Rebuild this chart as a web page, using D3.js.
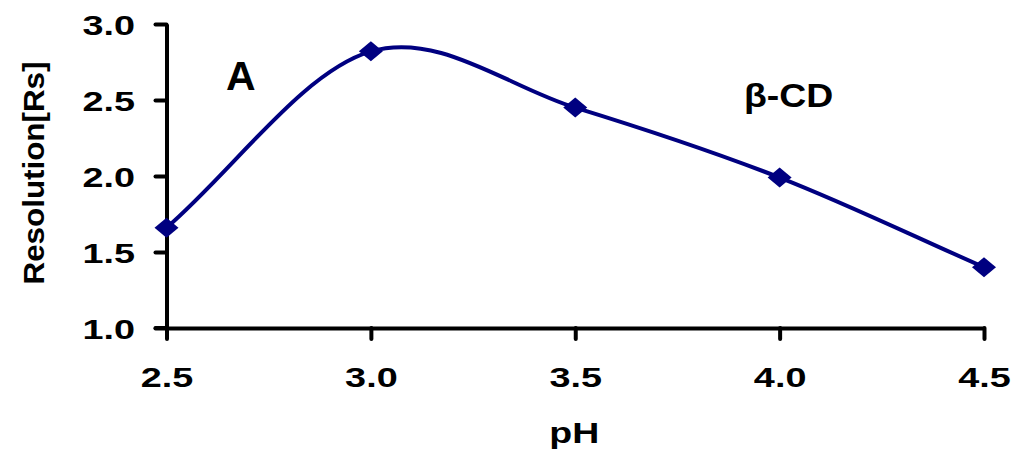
<!DOCTYPE html>
<html>
<head>
<meta charset="utf-8">
<script src="https://cdn.jsdelivr.net/npm/d3@7"></script>
<style>
  body { margin: 0; background: #fff; }
  text { font-family: "Liberation Sans", Arial, sans-serif; font-weight: bold; }
</style>
</head>
<body>
<svg width="1019" height="457"></svg>
<script>
var phValues = [2.5, 3.0, 3.5, 4.0, 4.5];
var resolution = [1.66, 2.82, 2.45, 1.99, 1.40];
var xTicks = [2.5, 3.0, 3.5, 4.0, 4.5];
var yTicks = [1.0, 1.5, 2.0, 2.5, 3.0];

var svg = d3.select('svg'),
  width = +svg.attr('width'),
  height = +svg.attr('height');

var mLeft = 166.5, mRight = 984, mTop = 24, mBottom = 328;
var stretch = 1.35; // labels in the reference are wide

var x = d3.scaleLinear().domain([2.5, 4.5]).range([mLeft, mRight]);
var y = d3.scaleLinear().domain([1.0, 3.0]).range([mBottom, mTop]);

var data = phValues.map(function(d, i) {
  return { ph: d, rs: resolution[i] };
});

// spreadsheet-style smoothed line: bezier handles of (next - prev) / 6,
// end handles pointing a third of the way to the neighbour
function smoothCurve(context) {
  return {
    areaStart: function() {},
    areaEnd: function() {},
    lineStart: function() { this._p = []; },
    point: function(px, py) { this._p.push([px, py]); },
    lineEnd: function() {
      var p = this._p, n = p.length;
      if (!n) return;
      context.moveTo(p[0][0], p[0][1]);
      var t = p.map(function(d, i) {
        if (n < 2) return [0, 0];
        if (i == 0) return [(p[1][0] - p[0][0]) / 3, (p[1][1] - p[0][1]) / 3];
        if (i == n - 1) return [(p[i][0] - p[i - 1][0]) / 3, (p[i][1] - p[i - 1][1]) / 3];
        return [(p[i + 1][0] - p[i - 1][0]) / 6, (p[i + 1][1] - p[i - 1][1]) / 6];
      });
      for (var i = 0; i < n - 1; i++) {
        context.bezierCurveTo(
          p[i][0] + t[i][0], p[i][1] + t[i][1],
          p[i + 1][0] - t[i + 1][0], p[i + 1][1] - t[i + 1][1],
          p[i + 1][0], p[i + 1][1]);
      }
    }
  };
}

var xAxis = svg.append('g')
  .attr('transform', 'translate(0,' + mBottom + ')')
  .call(d3.axisBottom(x).tickValues(xTicks).tickFormat(d3.format('.1f')).tickSize(11).tickSizeOuter(0));

var yAxis = svg.append('g')
  .attr('transform', 'translate(' + mLeft + ',0)')
  .call(d3.axisLeft(y).tickValues(yTicks).tickFormat(d3.format('.1f')).tickSize(11).tickSizeOuter(0));

[xAxis, yAxis].forEach(function(g) {
  g.selectAll('path.domain').attr('stroke', '#000').attr('stroke-width', 4);
  g.selectAll('.tick line').attr('stroke', '#000').attr('stroke-width', 4).attr('stroke-linecap', 'round');
  g.selectAll('.tick text').attr('fill', '#000').style('font-size', '28px')
    .attr('transform', 'scale(' + stretch + ',1)');
});
xAxis.selectAll('.tick text').attr('y', 59).attr('dy', 0);
yAxis.selectAll('.tick text').attr('x', -31.5 / stretch).attr('dy', '0.36em');

// extend x axis line to meet y tick at the corner
svg.append('line')
  .attr('x1', mLeft - 11).attr('x2', mLeft)
  .attr('y1', mBottom).attr('y2', mBottom)
  .attr('stroke', '#000').attr('stroke-width', 4).attr('stroke-linecap', 'round');

var line = d3.line()
  .x(function(d) { return x(d.ph); })
  .y(function(d) { return y(d.rs); })
  .curve(smoothCurve);

svg.append('path')
  .datum(data)
  .attr('d', line)
  .attr('fill', 'none')
  .attr('stroke', '#000080')
  .attr('stroke-width', 4);

svg.append('g')
  .selectAll('path')
  .data(data)
  .enter()
  .append('path')
  .attr('d', d3.symbol().type(d3.symbolSquare).size(200))
  .attr('transform', function(d) {
    return 'translate(' + x(d.ph) + ',' + y(d.rs) + ') scale(1.2,1) rotate(45)';
  })
  .attr('fill', '#000080');

svg.append('text')
  .attr('transform', 'translate(' + ((mLeft + mRight) / 2 - 1) + ',443) scale(1.25,1)')
  .attr('text-anchor', 'middle')
  .style('font-size', '30px')
  .text('pH');

svg.append('text')
  .attr('transform', 'translate(44,173) rotate(-90)')
  .attr('text-anchor', 'middle')
  .attr('textLength', 223)
  .attr('lengthAdjust', 'spacingAndGlyphs')
  .style('font-size', '30px')
  .text('Resolution[Rs]');

svg.append('text')
  .attr('x', 226)
  .attr('y', 90)
  .style('font-size', '41px')
  .text('A');

svg.append('text')
  .attr('transform', 'translate(744,107) scale(1.1,1)')
  .style('font-size', '34px')
  .text('β-CD');
</script>
</body>
</html>
